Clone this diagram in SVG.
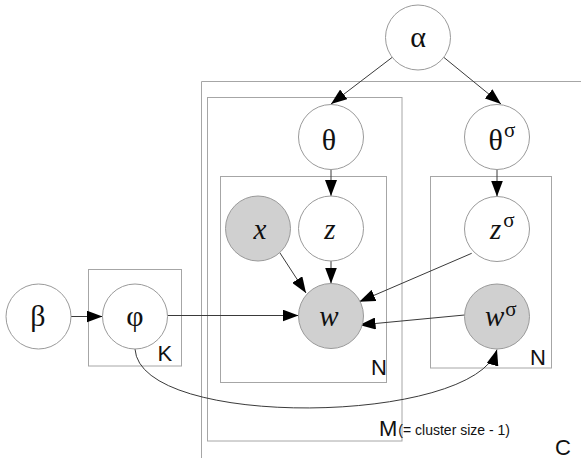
<svg xmlns="http://www.w3.org/2000/svg" width="581" height="464" viewBox="0 0 581 464">
<style>
.bg{fill:#ffffff}
.plate{fill:none;stroke:#a6a6a6;stroke-width:1}
.node{fill:#ffffff;stroke:#9a9a9a;stroke-width:1}
.obs{fill:#d0d0d0;stroke:#9a9a9a;stroke-width:1}
.edge{fill:none;stroke:#3a3a3a;stroke-width:1;marker-end:url(#arr)}
.gk{font-family:"Liberation Serif","DejaVu Serif",serif;font-size:30px;fill:#111}
.it{font-family:"Liberation Serif","DejaVu Serif",serif;font-size:29px;font-style:italic;fill:#111}
.sup{font-family:"Liberation Serif","DejaVu Serif",serif;font-size:21px;font-style:normal;fill:#111}
.lbl{font-family:"Liberation Sans",Arial,sans-serif;font-size:22px;fill:#111}
.small{font-family:"Liberation Sans",Arial,sans-serif;font-size:14px;fill:#111}
</style>
<defs>
<marker id="arr" markerUnits="userSpaceOnUse" markerWidth="16" markerHeight="12" refX="16" refY="6" orient="auto">
<path d="M0,0 L16,6 L0,12 Z" fill="#000"/>
</marker>
</defs>
<rect class="bg" x="0" y="0" width="581" height="464"/>
<g id="plates">
<g id="plate-C">
<path class="plate" d="M201.5,458 V81.5 H581"/>
<text class="lbl" x="555" y="455">C</text>
</g>
<g id="plate-M">
<rect class="plate" x="207.5" y="97.5" width="194.5" height="343.5"/>
<text x="379" y="436"><tspan class="lbl" font-size="23">M</tspan><tspan class="small" dx="1" dy="-1.5">(= cluster size - 1)</tspan></text>
</g>
<g id="plate-N1">
<rect class="plate" x="220.5" y="176.5" width="166" height="206"/>
<text class="lbl" x="371" y="375">N</text>
</g>
<g id="plate-N2">
<rect class="plate" x="430.5" y="176.5" width="121" height="191.5"/>
<text class="lbl" x="530" y="365">N</text>
</g>
<g id="plate-K">
<rect class="plate" x="88.5" y="269.5" width="93" height="96.5"/>
<text class="lbl" x="157.5" y="361">K</text>
</g>
</g>
<g id="connectors">
<path class="edge" d="M392,57.5 L331,104"/>
<path class="edge" d="M444,57.5 L501,104"/>
<path class="edge" d="M331,170 L331,196"/>
<path class="edge" d="M497,170 L497,196.5"/>
<path class="edge" d="M280,253 L306,293"/>
<path class="edge" d="M331,261 L331,283.5"/>
<path class="edge" d="M471.7,253.3 L359.3,301.7"/>
<path class="edge" d="M464.5,315 L359.5,325"/>
<path class="edge" d="M168,315.5 L298.5,315.5"/>
<path class="edge" d="M71,316.5 L102.5,316.5"/>
<path class="edge" d="M135,349 C140,430 475,425 497,349.5"/>
</g>
<g id="node-alpha">
<circle class="node" cx="418" cy="37.5" r="32.5"/>
<text class="gk" x="418" y="47" text-anchor="middle">α</text>
</g>
<g id="node-theta">
<circle class="node" cx="331" cy="137" r="32.5"/>
<text class="gk" x="329" y="150" text-anchor="middle">θ</text>
</g>
<g id="node-theta-sigma">
<circle class="node" cx="497" cy="137" r="32.5"/>
<text class="gk" x="488.5" y="150">θ<tspan class="sup" dx="1" dy="-13">σ</tspan></text>
</g>
<g id="node-x">
<circle class="obs" cx="258" cy="228.5" r="32.5"/>
<text class="it" x="260" y="238.5" text-anchor="middle">x</text>
</g>
<g id="node-z">
<circle class="node" cx="331" cy="228.5" r="32.5"/>
<text class="it" x="330" y="238.5" text-anchor="middle">z</text>
</g>
<g id="node-z-sigma">
<circle class="node" cx="497" cy="229" r="32.5"/>
<text class="it" x="490" y="238.5">z<tspan class="sup" dx="2" dy="-11.5">σ</tspan></text>
</g>
<g id="node-w">
<circle class="obs" cx="331" cy="316" r="32.5"/>
<text class="it" x="329" y="325.5" text-anchor="middle">w</text>
</g>
<g id="node-w-sigma">
<circle class="obs" cx="497" cy="316.5" r="32.5"/>
<text class="it" x="485" y="325.5">w<tspan class="sup" dx="1" dy="-10">σ</tspan></text>
</g>
<g id="node-beta">
<circle class="node" cx="38.5" cy="316.5" r="32.5"/>
<text class="gk" x="38" y="326" text-anchor="middle">β</text>
</g>
<g id="node-phi">
<circle class="node" cx="135" cy="316.5" r="32.5"/>
<text class="gk" x="135" y="326" text-anchor="middle">φ</text>
</g>
</svg>
